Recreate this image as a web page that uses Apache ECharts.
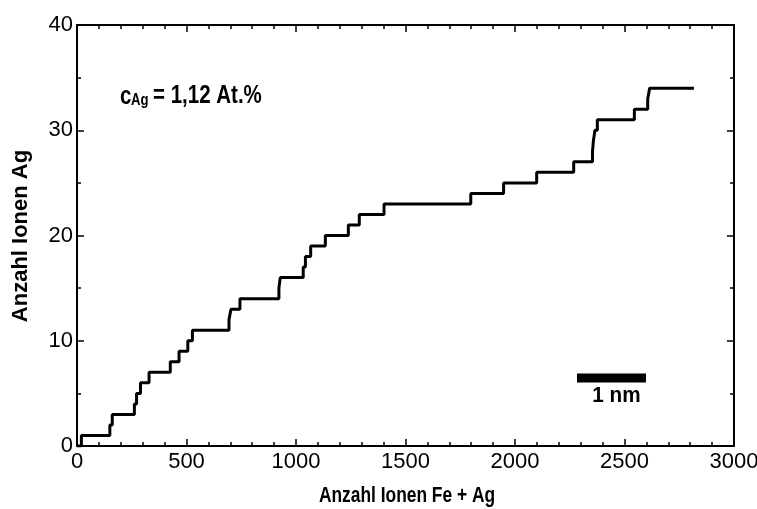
<!DOCTYPE html>
<html>
<head>
<meta charset="utf-8">
<script src="https://cdn.jsdelivr.net/npm/echarts@6/dist/echarts.min.js"></script>
<style>html,body{margin:0;padding:0;background:#fff;}#c{width:757px;height:509px;}</style>
</head>
<body>
<div id="c"></div>
<script>
// step positions (Anzahl Ionen Fe + Ag) and level (Anzahl Ionen Ag)
var stepX = [0, 20, 150, 161, 262, 272, 290, 329, 426, 466, 506, 527, 694, 703, 744, 922, 928, 1033, 1043, 1067, 1134, 1239, 1289, 1402, 1798, 1948, 2099, 2268, 2354, 2358, 2365, 2376, 2545, 2606, 2615, 2817];
var stepY = [0, 1, 2, 3, 4, 5, 6, 7, 8, 9, 10, 11, 12, 13, 14, 15, 16, 17, 18, 19, 20, 21, 22, 23, 24, 25, 26, 27, 28, 29, 30, 31, 32, 33, 34, 34];
var xTicks = [0, 500, 1000, 1500, 2000, 2500, 3000];
var yTicks = [0, 10, 20, 30, 40];
var scaleBarX = [2283, 2598];
var scaleBarY = 6.46;
var xTitle = 'Anzahl Ionen Fe + Ag';
var yTitle = 'Anzahl Ionen Ag';
var annotationMain = 'c';
var annotationSub = 'Ag';
var annotationRest = '= 1,12 At.%';
var scaleLabel = '1 nm';

var bold = '"Liberation Sans", Arial, sans-serif';
var reg = '"Liberation Sans", Arial, sans-serif';

var chart = echarts.init(document.getElementById('c'), null, {renderer: 'canvas'});
var data = stepX.map(function (x, i) { return [x, stepY[i]]; });

var axisLine = {show: true, onZero: false, lineStyle: {color: '#000', width: 2}};
var axisTick = {show: true, inside: true, length: 7, lineStyle: {color: '#000', width: 1.5}};
var minorTickX = {show: true, splitNumber: 5, length: 4, lineStyle: {color: '#000', width: 1.5}};
var minorTickY = {show: true, splitNumber: 2, length: 4, lineStyle: {color: '#000', width: 1.5}};
var plain = function (v) { return String(v); };

var option = {
  animation: false,
  backgroundColor: '#fff',
  grid: {left: 77, right: 23, top: 25, bottom: 63, containLabel: false, outerBoundsMode: 'none'},
  xAxis: [{
    type: 'value', min: xTicks[0], max: xTicks[xTicks.length - 1], interval: 500,
    position: 'bottom',
    axisLine: axisLine, axisTick: axisTick, minorTick: minorTickX,
    axisLabel: {fontFamily: reg, fontSize: 22, color: '#000', margin: 5, formatter: plain},
    splitLine: {show: false}
  }, {
    type: 'value', min: xTicks[0], max: xTicks[xTicks.length - 1], interval: 500,
    position: 'top',
    axisLine: axisLine, axisTick: axisTick, minorTick: minorTickX,
    axisLabel: {show: false}, splitLine: {show: false}
  }],
  yAxis: [{
    type: 'value', min: yTicks[0], max: yTicks[yTicks.length - 1], interval: 10,
    position: 'left',
    axisLine: axisLine, axisTick: axisTick, minorTick: minorTickY,
    axisLabel: {fontFamily: reg, fontSize: 22, color: '#000', margin: 4, formatter: plain},
    splitLine: {show: false}
  }, {
    type: 'value', min: yTicks[0], max: yTicks[yTicks.length - 1], interval: 10,
    position: 'right',
    axisLine: axisLine, axisTick: axisTick, minorTick: minorTickY,
    axisLabel: {show: false}, splitLine: {show: false}
  }],
  series: [{
    type: 'line', step: 'end', data: data, showSymbol: false, symbol: 'none',
    xAxisIndex: 0, yAxisIndex: 0,
    lineStyle: {color: '#000', width: 3}
  }, {
    type: 'line', data: [[scaleBarX[0], scaleBarY], [scaleBarX[1], scaleBarY]],
    showSymbol: false, symbol: 'none', xAxisIndex: 1, yAxisIndex: 1,
    lineStyle: {color: '#000', width: 9, cap: 'butt'}
  }]
};
chart.setOption(option);

var barMid = chart.convertToPixel({xAxisIndex: 0, yAxisIndex: 0}, [(scaleBarX[0] + scaleBarX[1]) / 2, scaleBarY]);
var sx = 0.82;
chart.setOption({
  graphic: [
    {type: 'text', x: 120, y: 85, scaleX: sx, style: {text: annotationMain, font: 'bold 25px ' + bold, fill: '#000', textVerticalAlign: 'alphabetic'}},
    {type: 'text', x: 131, y: 93, scaleX: sx, style: {text: annotationSub, font: 'bold 16px ' + bold, fill: '#000', textVerticalAlign: 'alphabetic'}},
    {type: 'text', x: 153, y: 84, scaleX: sx, style: {text: annotationRest, font: 'bold 25px ' + bold, fill: '#000', textVerticalAlign: 'alphabetic'}},
    {type: 'text', x: barMid[0] + 5, y: barMid[1] + 7, scaleX: 0.94, style: {text: scaleLabel, font: 'bold 22px ' + bold, fill: '#000', textAlign: 'center', textVerticalAlign: 'top'}},
    {type: 'text', x: 407, y: 496, scaleX: 0.79, style: {text: xTitle, font: 'bold 22px ' + bold, fill: '#000', textAlign: 'center', textVerticalAlign: 'middle'}},
    {type: 'text', x: 21, y: 236, rotation: Math.PI / 2, scaleX: 1.0, style: {text: yTitle, font: 'bold 22px ' + bold, fill: '#000', textAlign: 'center', textVerticalAlign: 'middle'}}
  ]
});
</script>
</body>
</html>
